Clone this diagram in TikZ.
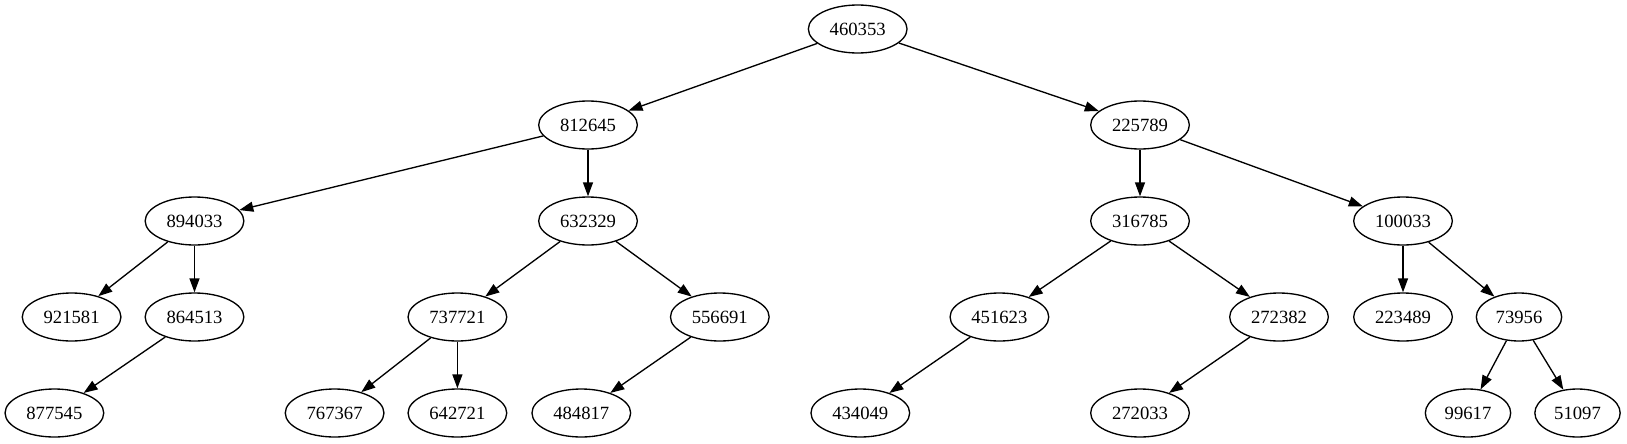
\documentclass[tikz,border=0pt]{standalone}
\usepackage{fontspec}
\setmainfont{Liberation Serif}
\usetikzlibrary{arrows.meta, shapes.geometric}

\tikzset{
  key/.style={draw, ellipse, line width=1pt, inner sep=0pt,
    minimum width=74pt, minimum height=36pt,
    font=\fontsize{14}{16}\selectfont},
  shortkey/.style={key, minimum width=64pt},
  edge/.style={line width=1pt, -{Triangle[length=10.5pt,width=7.5pt]}}
}

\begin{document}
\begin{tikzpicture}[x=0.75pt, y=-0.75pt]
      \useasboundingbox (0,0) rectangle (1627,443);
      % root
      \node[key] (n460353) at (857.7, 29) {460353};
      % level 1
      \node[key] (n812645) at (588, 125) {812645};
      \node[key] (n225789) at (1140, 125) {225789};
      % level 2
      \node[key] (n894033) at (194.5, 221) {894033};
      \node[key] (n632329) at (588, 221) {632329};
      \node[key] (n316785) at (1140, 221) {316785};
      \node[key] (n100033) at (1403, 221) {100033};
      % level 3
      \node[key] (n921581) at (71.6, 317) {921581};
      \node[key] (n864513) at (194.5, 317) {864513};
      \node[key] (n737721) at (457.4, 317) {737721};
      \node[key] (n556691) at (719.8, 317) {556691};
      \node[key] (n451623) at (999.4, 317) {451623};
      \node[key] (n272382) at (1279, 317) {272382};
      \node[key] (n223489) at (1403, 317) {223489};
      \node[shortkey] (n73956) at (1519, 317) {73956};
      % level 4
      \node[key] (n877545) at (54.4, 413) {877545};
      \node[key] (n767367) at (334.6, 413) {767367};
      \node[key] (n642721) at (457.4, 413) {642721};
      \node[key] (n484817) at (581.3, 413) {484817};
      \node[key] (n434049) at (860.3, 413) {434049};
      \node[key] (n272033) at (1140, 413) {272033};
      \node[shortkey] (n99617) at (1468, 413) {99617};
      \node[shortkey] (n51097) at (1577.5, 413) {51097};

      % edges
      \draw[edge] (n460353) -- (n812645);
      \draw[edge] (n460353) -- (n225789);

      \draw[edge] (n812645) -- (n894033);
      \draw[edge] (n812645) -- (n632329);
      \draw[edge] (n225789) -- (n316785);
      \draw[edge] (n225789) -- (n100033);

      \draw[edge] (n894033) -- (n921581);
      \draw[edge] (n894033) -- (n864513);
      \draw[edge] (n632329) -- (n737721);
      \draw[edge] (n632329) -- (n556691);
      \draw[edge] (n316785) -- (n451623);
      \draw[edge] (n316785) -- (n272382);
      \draw[edge] (n100033) -- (n223489);
      \draw[edge] (n100033) -- (n73956);

      \draw[edge] (n864513) -- (n877545);
      \draw[edge] (n737721) -- (n767367);
      \draw[edge] (n737721) -- (n642721);
      \draw[edge] (n556691) -- (n484817);
      \draw[edge] (n451623) -- (n434049);
      \draw[edge] (n272382) -- (n272033);
      \draw[edge] (n73956) -- (n99617);
      \draw[edge] (n73956) -- (n51097);
\end{tikzpicture}
\end{document}
